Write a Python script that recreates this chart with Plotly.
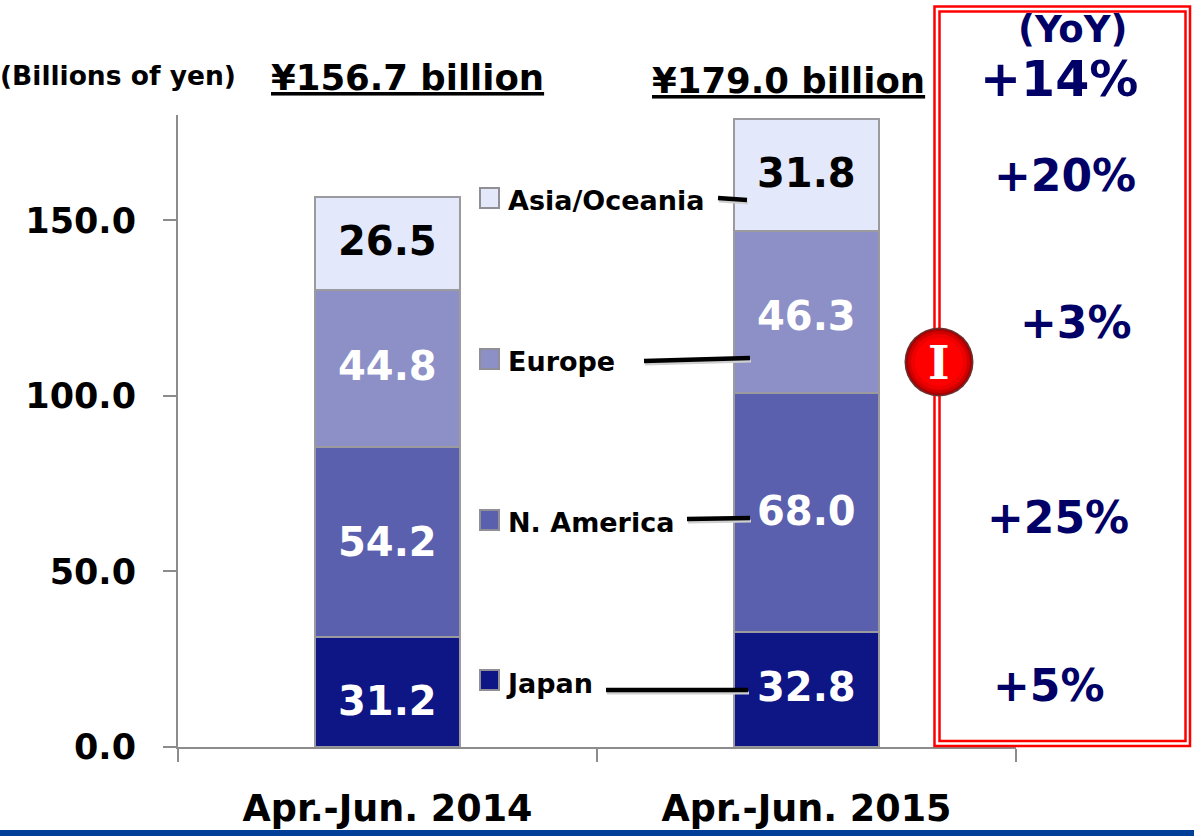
import plotly.graph_objects as go

periods = ["Apr.-Jun. 2014", "Apr.-Jun. 2015"]
regions = ["Japan", "N. America", "Europe", "Asia/Oceania"]
japan = [31.2, 32.8]
n_america = [54.2, 68.0]
europe = [44.8, 46.3]
asia = [26.5, 31.8]
totals = ["¥156.7 billion", "¥179.0 billion"]
yoy = ["+14%", "+20%", "+3%", "+25%", "+5%"]
colors = ["#0E1585", "#5B60AE", "#8C90C7", "#E4E8FB"]
label_colors = ["white", "white", "white", "black"]
label_shift = [[-9, 2], [0, 1], [3, -4], [2, 2]]
FONT = "DejaVu Sans"
W, H = 1194, 836
L, R, T, B = 178, 1016, 115, 747


def px(x):
    return (x - L) / (R - L)


def py(y):
    return (B - y) / (B - T)


fig = go.Figure()
anns = []
shapes = []
base = [0.0, 0.0]
for name, vals, c, lc, shift in zip(regions, [japan, n_america, europe, asia], colors, label_colors, label_shift):
    fig.add_bar(x=periods, y=vals, name=name, marker=dict(color=c, line=dict(color="#9a9a9f", width=2)),
                showlegend=False)
    for i, v in enumerate(vals):
        anns.append(dict(xref="x", yref="y", x=periods[i], y=base[i] + v / 2, text=f"{v:.1f}", showarrow=False,
                         yshift=shift[i], font=dict(family=FONT, size=40, color=lc, weight=700)))
        base[i] += v


def txt(x, y, s, size, color="black", anchor="center"):
    anns.append(dict(xref="paper", yref="paper", x=px(x), y=py(y), text=s, showarrow=False, xanchor=anchor,
                     yanchor="middle", font=dict(family=FONT, size=size, color=color, weight=700)))


def rect(x0, y0, x1, y1, **kw):
    shapes.append(dict(type="rect", xref="paper", yref="paper", x0=px(x0), x1=px(x1), y0=py(y0), y1=py(y1), **kw))


def line(x0, y0, x1, y1, color="black", width=4.5):
    shapes.append(dict(type="line", xref="paper", yref="paper", x0=px(x0 + 1), x1=px(x1 + 1), y0=py(y0 + 3),
                       y1=py(y1 + 3), line=dict(color="#cfcfcf", width=3)))
    shapes.append(dict(type="line", xref="paper", yref="paper", x0=px(x0), x1=px(x1), y0=py(y0), y1=py(y1),
                       line=dict(color=color, width=width)))


# bottom band
rect(0, 830, W, H, fillcolor="#003F98", line=dict(width=0))
# red frame
rect(934.5, 6.5, 1190, 746, line=dict(color="#FF0000", width=2.5))
rect(939.5, 11.5, 1185.5, 741, line=dict(color="#FF0000", width=2.5))
# key
key_y = [680, 520, 359, 198]
for r, c, ky in zip(regions, colors, key_y):
    rect(480, ky - 10, 499, ky + 10, fillcolor=c, line=dict(color="#8f8f95", width=2))
    txt(506 if r != "Japan" else 504, ky + (2 if r != "Japan" else 3), r, 27, anchor="left")
# leader lines
line(606, 690, 748, 690)
line(687, 519, 750, 518)
line(644, 361, 750, 358)
line(718, 198, 747, 200)
# badge
for r, c in [(34.5, "#6a3030"), (33, "#a80000"), (31, "#d00000"), (28, "#ee0000"), (24, "#ff0000")]:
    shapes.append(dict(type="circle", xref="paper", yref="paper", x0=px(939 - r), x1=px(939 + r),
                       y0=py(362 + r), y1=py(362 - r), fillcolor=c, line=dict(width=0)))
anns.append(dict(xref="paper", yref="paper", x=px(939), y=py(363), text="I", showarrow=False, xanchor="center",
                 yanchor="middle", font=dict(family="DejaVu Serif", size=46, color="white", weight=700)))
# headings
txt(117.5, 76, "(Billions of yen)", 26.5)
txt(407.5, 78, f"<u>{totals[0]}</u>", 35.5)
txt(788, 81, f"<u>{totals[1]}</u>", 35.5)
txt(1072.5, 30, "(YoY)", 37, "#000066")
for s, x, y, size in zip(yoy, [1058.5, 1064.5, 1075.5, 1058, 1049], [80, 176, 322, 517, 685], [49, 44, 44, 44, 44]):
    txt(x, y, s, size, "#000066")

fig.update_layout(
    barmode="stack", bargap=0.656, width=W, height=H, autosize=False,
    margin=dict(l=L, r=W - R, t=T, b=H - B), paper_bgcolor="white", plot_bgcolor="white",
    shapes=shapes, annotations=anns,
    yaxis=dict(range=[0, 180], tickvals=[0, 50, 100, 150], tickformat=".1f", showgrid=False, zeroline=False,
               automargin=False, showline=True, linecolor="#8c8c8c", linewidth=2, ticks="outside", ticklen=13,
               tickcolor="#8c8c8c", tickwidth=2, ticklabelstandoff=20,
               tickfont=dict(family=FONT, size=35, color="black", weight=700)),
    xaxis=dict(type="category", tickson="boundaries", showgrid=False, automargin=False, showline=True,
               linecolor="#8c8c8c", linewidth=2, ticks="outside", ticklen=13, tickcolor="#8c8c8c", tickwidth=2,
               ticklabelstandoff=28, tickfont=dict(family=FONT, size=36.5, color="black", weight=700)),
)
fig.write_html("out.html", config={"displayModeBar": False}, post_script="document.body.style.margin='0';")
